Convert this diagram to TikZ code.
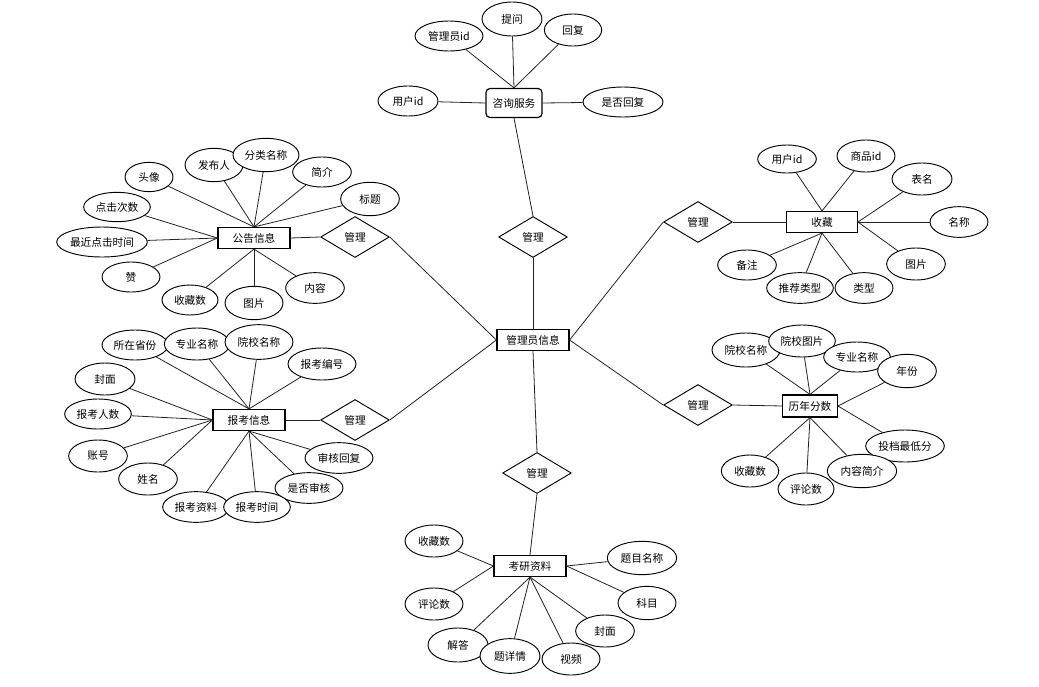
\documentclass[tikz,border=0pt]{standalone}
\usepackage{fontspec}
\setmainfont{Noto Sans CJK SC}
\usetikzlibrary{shapes.geometric}
\definecolor{erline}{HTML}{222222}
\tikzset{
  entity/.style={
    draw=black,
    line width=0.9pt,
    fill=white,
    minimum width=54pt,
    minimum height=15.75pt,
    inner sep=0pt,
    font=\fontsize{8}{9}\selectfont
  },
  attr/.style={
    ellipse,
    draw=black,
    line width=0.7pt,
    fill=white,
    minimum width=44pt,
    minimum height=23.5pt,
    inner sep=0pt,
    font=\fontsize{8}{9}\selectfont
  },
  rel/.style={
    diamond,
    draw=black,
    line width=0.7pt,
    fill=white,
    minimum width=51.5pt,
    minimum height=30.75pt,
    inner sep=0pt,
    font=\fontsize{8}{9}\selectfont
  },
  link/.style={
    draw=erline,
    line width=0.6pt
  }
}
\begin{document}
\begin{tikzpicture}[x=0.75pt,y=-0.75pt]
\useasboundingbox (0,0) rectangle (1039,686);

% entities
\node[entity] (admin) at (533,340) {管理员信息};
\node[entity, rounded corners=3pt, minimum width=42pt, minimum height=21.75pt] (zixun) at (514,103) {咨询服务};
\node[entity] (gonggao) at (254,238) {公告信息};
\node[entity] (baokao) at (249,420) {报考信息};
\node[entity, minimum width=53pt] (shoucang) at (822,222) {收藏};
\node[entity, minimum width=41pt, minimum height=16.5pt] (fenshu) at (810,406) {历年分数};
\node[entity] (kaoyan) at (530,566) {考研资料};

% relations
\node[rel] (rtop) at (533,237) {管理};
\node[rel] (rbot) at (537,473) {管理};
\node[rel] (rgonggao) at (355,237) {管理};
\node[rel] (rbaokao) at (355,420) {管理};
\node[rel] (rshoucang) at (698,222) {管理};
\node[rel] (rfenshu) at (698,405) {管理};

% 咨询服务
\node[attr, minimum width=51pt, minimum height=22.5pt] (zxadmin) at (449,36) {管理员id};
\node[attr, minimum width=45pt, minimum height=25.5pt] (zxask) at (512,19) {提问};
\node[attr, minimum width=43pt, minimum height=24pt] (zxreply) at (573,30) {回复};
\node[attr, minimum width=45pt, minimum height=22.5pt] (zxuser) at (408,101) {用户id};
\node[attr, minimum width=60pt, minimum height=22.5pt] (zxflag) at (623,102) {是否回复};

% 公告信息
\node[attr, minimum width=36pt, minimum height=22pt] (ggavatar) at (149,177) {头像};
\node[attr, minimum width=43.5pt, minimum height=25pt] (ggauthor) at (214,165) {发布人};
\node[attr, minimum width=49.5pt, minimum height=25pt] (ggcat) at (266,155) {分类名称};
\node[attr, minimum height=22.5pt] (ggintro) at (322,172) {简介};
\node[attr, minimum height=25pt] (ggtitle) at (370,199) {标题};
\node[attr, minimum width=50pt, minimum height=22pt] (ggclicks) at (117,207) {点击次数};
\node[attr, minimum width=68pt, minimum height=22.5pt] (gglast) at (102,242) {最近点击时间};
\node[attr, minimum width=43.5pt, minimum height=22.5pt] (gglike) at (131,277) {赞};
\node[attr, minimum width=42pt, minimum height=22.5pt] (ggfav) at (190,300) {收藏数};
\node[attr, minimum width=43.5pt, minimum height=25pt] (ggpic) at (254,303) {图片};
\node[attr, minimum height=23pt] (ggtext) at (315,288) {内容};

% 报考信息
\node[attr, minimum width=49.5pt, minimum height=22.5pt] (bkprov) at (135,345) {所在省份};
\node[attr, minimum width=49pt, minimum height=24pt] (bkmajor) at (197,344) {专业名称};
\node[attr, minimum width=51pt, minimum height=26pt] (bkschool) at (259,342) {院校名称};
\node[attr, minimum width=51pt, minimum height=24pt] (bkno) at (322,364) {报考编号};
\node[attr, minimum width=45pt, minimum height=24pt] (bkcover) at (105,379) {封面};
\node[attr, minimum width=50pt, minimum height=22.5pt] (bkcount) at (98,414) {报考人数};
\node[attr, minimum height=24pt] (bkacct) at (98,456) {账号};
\node[attr, minimum height=24pt] (bkname) at (148,479) {姓名};
\node[attr, minimum width=51pt, minimum height=23pt] (bkreply) at (339,458) {审核回复};
\node[attr, minimum width=51pt, minimum height=23pt] (bkcheck) at (309,488) {是否审核};
\node[attr, minimum width=50pt, minimum height=23pt] (bkdata) at (196,507) {报考资料};
\node[attr, minimum width=50pt, minimum height=23pt] (bktime) at (257,507) {报考时间};

% 收藏
\node[attr, minimum height=21pt] (scuser) at (787,159) {用户id};
\node[attr, minimum width=43.5pt, minimum height=24pt] (scgoods) at (866,156) {商品id};
\node[attr, minimum width=45pt, minimum height=24pt] (sctable) at (922,179) {表名};
\node[attr, minimum width=43.5pt, minimum height=23pt] (scname) at (959,222) {名称};
\node[attr, minimum height=24pt] (scpic) at (916,264) {图片};
\node[attr, minimum height=22.5pt] (scnote) at (747,265) {备注};
\node[attr, minimum width=50pt, minimum height=23pt] (screc) at (800,288) {推荐类型};
\node[attr, minimum width=43.5pt, minimum height=23pt] (sctype) at (864,288) {类型};

% 历年分数
\node[attr, minimum width=51pt, minimum height=25.5pt] (fsschool) at (746,350) {院校名称};
\node[attr, minimum width=50pt, minimum height=24pt] (fspic) at (802,341) {院校图片};
\node[attr, minimum width=50pt, minimum height=22.5pt] (fsmajor) at (857,357) {专业名称};
\node[attr, minimum height=25pt] (fsyear) at (907,371) {年份};
\node[attr, minimum width=59pt, minimum height=24pt] (fsmin) at (905,446) {投档最低分};
\node[attr, minimum width=43pt, minimum height=24pt] (fsfav) at (750,471) {收藏数};
\node[attr, minimum width=42pt, minimum height=24pt] (fscomm) at (806,489) {评论数};
\node[attr, minimum width=52pt, minimum height=25pt] (fsintro) at (862,471) {内容简介};

% 考研资料
\node[attr, minimum width=43.5pt, minimum height=24pt] (kyfav) at (434,541) {收藏数};
\node[attr, minimum width=43.5pt, minimum height=24pt] (kycomm) at (434,604) {评论数};
\node[attr, minimum width=52pt, minimum height=25pt] (kytitle) at (642,558) {题目名称};
\node[attr, minimum width=43.5pt, minimum height=25pt] (kysubj) at (647,603) {科目};
\node[attr, minimum height=24pt] (kycover) at (605,631) {封面};
\node[attr, minimum width=45pt, minimum height=25.5pt] (kyans) at (458,645) {解答};
\node[attr, minimum width=45pt, minimum height=26pt] (kydetail) at (510,656) {题详情};
\node[attr, minimum width=43.5pt, minimum height=24pt] (kyvideo) at (571,659) {视频};

% relation lines
\draw[link] (zixun.south) -- (rtop.north);
\draw[link] (rtop.south) -- (admin.north);
\draw[link] (admin.south) -- (rbot.north);
\draw[link] (rbot.south) -- (kaoyan.north);
\draw[link] (gonggao.east) -- (rgonggao.west);
\draw[link] (rgonggao.east) -- (admin.west);
\draw[link] (baokao.east) -- (rbaokao.west);
\draw[link] (rbaokao.east) -- (admin.west);
\draw[link] (admin.east) -- (rshoucang.west);
\draw[link] (rshoucang.east) -- (shoucang.west);
\draw[link] (admin.east) -- (rfenshu.west);
\draw[link] (rfenshu.east) -- (fenshu.west);

% attribute lines
\draw[link] (zxadmin) -- (zixun.north);
\draw[link] (zxask) -- (zixun.north);
\draw[link] (zxreply) -- (zixun.north);
\draw[link] (zxuser) -- (zixun.west);
\draw[link] (zxflag) -- (zixun.east);

\draw[link] (ggavatar) -- (gonggao.north);
\draw[link] (ggauthor) -- (gonggao.north);
\draw[link] (ggcat) -- (gonggao.north);
\draw[link] (ggintro) -- (gonggao.north);
\draw[link] (ggtitle) -- (gonggao.north);
\draw[link] (ggclicks) -- (gonggao.west);
\draw[link] (gglast) -- (gonggao.west);
\draw[link] (gglike) -- (gonggao.west);
\draw[link] (ggfav) -- (gonggao.south);
\draw[link] (ggpic) -- (gonggao.south);
\draw[link] (ggtext) -- (gonggao.south);

\draw[link] (bkprov) -- (baokao.north);
\draw[link] (bkmajor) -- (baokao.north);
\draw[link] (bkschool) -- (baokao.north);
\draw[link] (bkno) -- (baokao.north);
\draw[link] (bkcover) -- (baokao.west);
\draw[link] (bkcount) -- (baokao.west);
\draw[link] (bkacct) -- (baokao.west);
\draw[link] (bkname) -- (baokao.west);
\draw[link] (bkdata) -- (baokao.south);
\draw[link] (bktime) -- (baokao.south);
\draw[link] (bkcheck) -- (baokao.south);
\draw[link] (bkreply) -- (baokao.south);

\draw[link] (scuser) -- (shoucang.north);
\draw[link] (scgoods) -- (shoucang.north);
\draw[link] (sctable) -- (shoucang.east);
\draw[link] (scname) -- (shoucang.east);
\draw[link] (scpic) -- (shoucang.east);
\draw[link] (scnote) -- (shoucang.south);
\draw[link] (screc) -- (shoucang.south);
\draw[link] (sctype) -- (shoucang.south);

\draw[link] (fsschool) -- (fenshu.north);
\draw[link] (fspic) -- (fenshu.north);
\draw[link] (fsmajor) -- (fenshu.north);
\draw[link] (fsyear) -- (fenshu.east);
\draw[link] (fsmin) -- (fenshu.east);
\draw[link] (fsfav) -- (fenshu.south);
\draw[link] (fscomm) -- (fenshu.south);
\draw[link] (fsintro) -- (fenshu.south);

\draw[link] (kyfav) -- (kaoyan.west);
\draw[link] (kycomm) -- (kaoyan.west);
\draw[link] (kytitle) -- (kaoyan.east);
\draw[link] (kysubj) -- (kaoyan.east);
\draw[link] (kyans) -- (kaoyan.south);
\draw[link] (kydetail) -- (kaoyan.south);
\draw[link] (kyvideo) -- (kaoyan.south);
\draw[link] (kycover) -- (kaoyan.south);

\end{tikzpicture}
\end{document}
